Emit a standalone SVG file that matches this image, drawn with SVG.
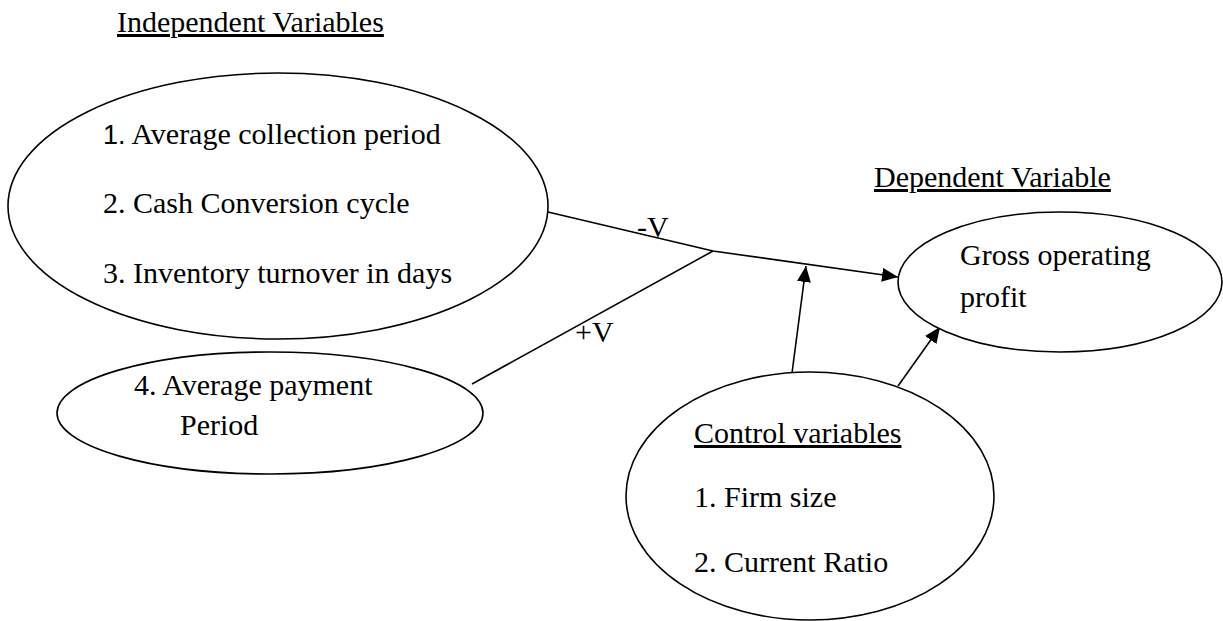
<svg xmlns="http://www.w3.org/2000/svg" width="1223" height="621" viewBox="0 0 1223 621">
  <style>
    text { font-family: "Liberation Serif", "Times New Roman", serif; font-size: 30px; fill: #000; }
    .title { text-decoration: underline; }
    .node ellipse { fill: #fff; stroke: #000; stroke-width: 1.6; }
    .edge { fill: none; stroke: #000; stroke-width: 1.6; }
  </style>
  <defs>
    <marker id="arrow" viewBox="0 0 16 14" refX="16" refY="7" markerWidth="16" markerHeight="14" markerUnits="userSpaceOnUse" orient="auto">
      <path d="M0,0 L16,7 L0,14 Z" fill="#000"/>
    </marker>
  </defs>

  <rect width="1223" height="621" fill="#fff"/>

  <!-- section headings -->
  <text class="title" x="117" y="32">Independent Variables</text>
  <text class="title" x="874" y="187">Dependent Variable</text>

  <!-- connectors -->
  <g id="connectors">
    <polyline class="edge" points="548,212 713,251 898,277" marker-end="url(#arrow)"/>
    <line class="edge" x1="472" y1="384" x2="713" y2="251"/>
    <line class="edge" x1="792" y1="373" x2="806" y2="266" marker-end="url(#arrow)"/>
    <line class="edge" x1="898" y1="386" x2="940" y2="327" marker-end="url(#arrow)"/>
    <text x="637" y="237">-V</text>
    <text x="575" y="342">+V</text>
  </g>

  <!-- independent variables 1-3 -->
  <g id="node-independent" class="node">
    <ellipse cx="278" cy="206" rx="270" ry="133"/>
    <text x="103" y="144"><tspan font-family="'Liberation Sans', Arial, sans-serif" font-size="27">1.</tspan> Average collection period</text>
    <text x="103" y="213">2. Cash Conversion cycle</text>
    <text x="103" y="283">3. Inventory turnover in days</text>
  </g>

  <!-- independent variable 4 -->
  <g id="node-payment" class="node">
    <ellipse cx="270" cy="413" rx="213" ry="61"/>
    <text x="134" y="395">4. Average payment</text>
    <text x="180" y="435">Period</text>
  </g>

  <!-- dependent variable -->
  <g id="node-dependent" class="node">
    <ellipse cx="1060" cy="282" rx="162" ry="70"/>
    <text x="960" y="265">Gross operating</text>
    <text x="960" y="307">profit</text>
  </g>

  <!-- control variables -->
  <g id="node-control" class="node">
    <ellipse cx="810" cy="496" rx="184" ry="124"/>
    <text class="title" x="694" y="443">Control variables</text>
    <text x="694" y="507">1. Firm size</text>
    <text x="694" y="572">2. Current Ratio</text>
  </g>
</svg>
